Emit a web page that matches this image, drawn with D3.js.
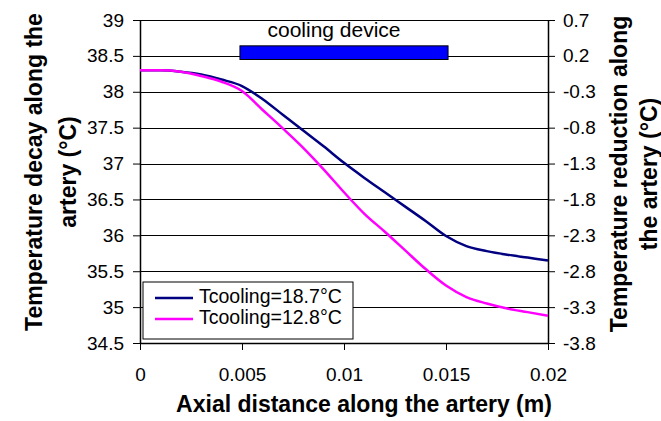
<!DOCTYPE html>
<html>
<head>
<meta charset="utf-8">
<script src="https://cdn.jsdelivr.net/npm/d3@7"></script>
<style>
  body { margin: 0; background: #fff; }
  svg { font-family: "Liberation Sans", Arial, sans-serif; }
</style>
</head>
<body>
<svg id="chart" width="661" height="421"></svg>
<script>
// axial distance (m)
var xs = [0, 0.001, 0.002, 0.003, 0.004, 0.005, 0.006, 0.007, 0.008, 0.009, 0.01,
          0.011, 0.012, 0.013, 0.014, 0.015, 0.016, 0.017, 0.018, 0.019, 0.02];
// Tcooling = 18.7 C
var t187 = [38.3, 38.3, 38.28, 38.24, 38.17, 38.08, 37.9, 37.68, 37.46, 37.24, 37.01,
            36.8, 36.6, 36.4, 36.2, 35.99, 35.85, 35.78, 35.73, 35.69, 35.65];
// Tcooling = 12.8 C
var t128 = [38.3, 38.3, 38.28, 38.22, 38.14, 38.01, 37.75, 37.49, 37.22, 36.92, 36.6,
            36.3, 36.05, 35.79, 35.53, 35.3, 35.14, 35.05, 34.98, 34.93, 34.88];
var seriesNames = ['Tcooling=18.7\u00b0C', 'Tcooling=12.8\u00b0C'];
var seriesColors = ['#000080', '#ff00ff'];
var xTicks = [0, 0.005, 0.01, 0.015, 0.02];
var yTicks = [34.5, 35, 35.5, 36, 36.5, 37, 37.5, 38, 38.5, 39];
var yRightTicks = [-3.8, -3.3, -2.8, -2.3, -1.8, -1.3, -0.8, -0.3, 0.2, 0.7];
var device = { x0: 0.0049, x1: 0.0151, yTop: 38.64, yBottom: 38.45, label: 'cooling device' };

var svg = d3.select('#chart');
var ml = 140, mr = 548, mt = 20, mb = 343;

var x = d3.scaleLinear().domain([0, 0.02]).range([ml, mr]);
var y = d3.scaleLinear().domain([34.5, 39]).range([mb, mt]);
var y2 = d3.scaleLinear().domain([-3.8, 0.7]).range([mb, mt]);

// grid
svg.append('g').selectAll('line').data(yTicks).enter().append('line')
  .attr('x1', ml).attr('x2', mr)
  .attr('y1', function (d) { return Math.round(y(d)) + 0.5; })
  .attr('y2', function (d) { return Math.round(y(d)) + 0.5; })
  .attr('stroke', '#000').attr('stroke-width', 1);

function styleAxis (g) {
  g.selectAll('path').attr('stroke', '#000').attr('stroke-width', 1.5);
  g.selectAll('line').attr('stroke', '#000');
  g.selectAll('text').attr('font-size', 19).attr('fill', '#000')
    .attr('font-family', '"Liberation Sans", Arial, sans-serif');
}

svg.append('g').attr('transform', 'translate(' + ml + ',0)')
  .call(d3.axisLeft(y).tickValues(yTicks).tickSize(7).tickSizeOuter(0).tickPadding(9)
    .tickFormat(d3.format('')))
  .call(styleAxis);

svg.append('g').attr('transform', 'translate(' + mr + ',0)')
  .call(d3.axisRight(y2).tickValues(yRightTicks).tickSize(7).tickSizeOuter(0).tickPadding(8)
    .tickFormat(function (d) { return d3.format('.1f')(d).replace('\u2212', '-'); }))
  .call(styleAxis);

svg.append('g').attr('transform', 'translate(0,' + mb + ')')
  .call(d3.axisBottom(x).tickValues(xTicks).tickSize(7).tickSizeOuter(0).tickPadding(18)
    .tickFormat(d3.format('')))
  .call(styleAxis);

// cooling device bar
svg.append('rect')
  .attr('x', x(device.x0)).attr('y', y(device.yTop))
  .attr('width', x(device.x1) - x(device.x0))
  .attr('height', y(device.yBottom) - y(device.yTop))
  .attr('fill', '#0000ff').attr('stroke', '#000').attr('stroke-width', 1);
svg.append('text')
  .attr('x', 334).attr('y', 37)
  .attr('text-anchor', 'middle').attr('font-size', 21).text(device.label);

// curves
var line = d3.line().curve(d3.curveMonotoneX)
  .x(function (d) { return x(d[0]); })
  .y(function (d) { return y(d[1]); });
[t187, t128].forEach(function (vals, i) {
  svg.append('path')
    .datum(xs.map(function (v, j) { return [v, vals[j]]; }))
    .attr('d', line).attr('fill', 'none')
    .attr('stroke', seriesColors[i]).attr('stroke-width', 2.5);
});

// legend
var lg = svg.append('g').attr('transform', 'translate(143,282)');
lg.append('rect').attr('width', 210).attr('height', 57)
  .attr('fill', '#fff').attr('stroke', '#000').attr('stroke-width', 1);
seriesNames.forEach(function (name, i) {
  var yy = 16 + i * 21;
  lg.append('line').attr('x1', 12).attr('x2', 50).attr('y1', yy).attr('y2', yy)
    .attr('stroke', seriesColors[i]).attr('stroke-width', 2.5);
  lg.append('text').attr('x', 56).attr('y', yy + 5).attr('font-size', 19.5).text(name);
});

// axis titles
svg.append('text')
  .attr('x', 364).attr('y', 412)
  .attr('text-anchor', 'middle').attr('font-size', 23).attr('font-weight', 'bold')
  .text('Axial distance along the artery (m)');

var lt = svg.append('text').attr('transform', 'translate(0,172) rotate(-90)')
  .attr('text-anchor', 'middle').attr('font-size', 23).attr('font-weight', 'bold');
lt.append('tspan').attr('x', 0).attr('y', 42).text('Temperature decay along the');
lt.append('tspan').attr('x', 0).attr('y', 76).text('artery (\u00b0C)');

var rt = svg.append('text').attr('transform', 'translate(0,174) rotate(-90)')
  .attr('text-anchor', 'middle').attr('font-size', 23).attr('font-weight', 'bold');
rt.append('tspan').attr('x', 0).attr('y', 627).text('Temperature reduction along');
rt.append('tspan').attr('x', 0).attr('y', 657).text('the artery (\u00b0C)');
</script>
</body>
</html>
